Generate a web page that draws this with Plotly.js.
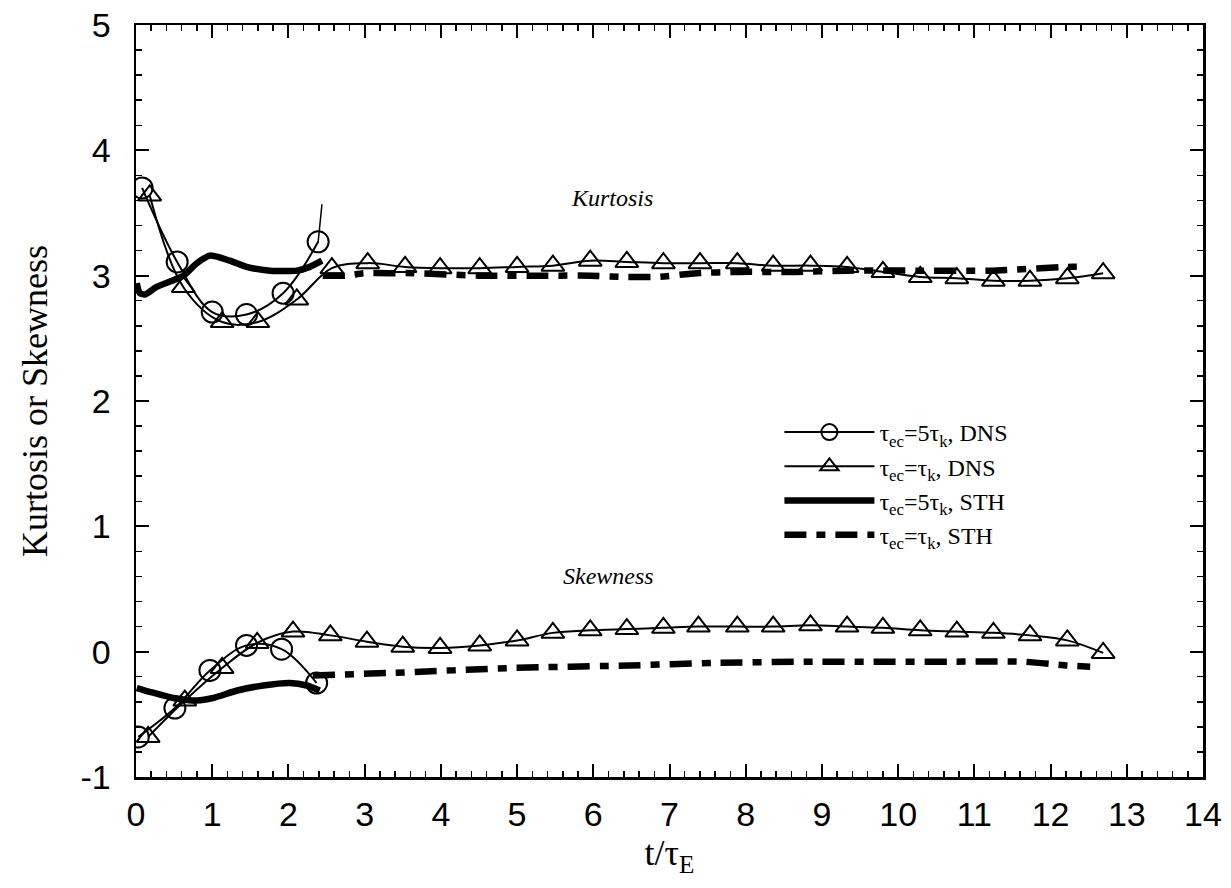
<!DOCTYPE html>
<html>
<head>
<meta charset="utf-8">
<script src="https://cdn.plot.ly/plotly-3.0.1.min.js"></script>
<style>html,body{margin:0;padding:0;background:#fff;}#chart{width:1231px;height:888px;}</style>
</head>
<body>
<div id="chart"></div>
<script>
// ---- Kurtosis: DNS tau_ec = 5 tau_k (circles)
const kurtDns5X = [0.08, 0.54, 1.00, 1.45, 1.93, 2.39];
const kurtDns5Y = [3.70, 3.11, 2.71, 2.69, 2.86, 3.27];
const kurtDns5TailX = [2.39, 2.44];
const kurtDns5TailY = [3.27, 3.57];
// ---- Kurtosis: DNS tau_ec = tau_k (triangles)
const kurtDns1X = [0.18, 0.62, 1.13, 1.60, 2.11, 2.57, 3.04, 3.53, 3.99, 4.51, 5.00, 5.47, 5.96, 6.44, 6.92, 7.40, 7.89, 8.36, 8.85, 9.33, 9.80, 10.29, 10.77, 11.25, 11.73, 12.22, 12.69];
const kurtDns1Y = [3.64, 2.91, 2.63, 2.63, 2.81, 3.06, 3.10, 3.07, 3.06, 3.06, 3.07, 3.08, 3.12, 3.11, 3.10, 3.10, 3.10, 3.08, 3.08, 3.07, 3.03, 2.99, 2.98, 2.96, 2.96, 2.98, 3.02];
// ---- Kurtosis: STH tau_ec = 5 tau_k (thick solid)
const kurtSth5X = [0.01, 0.05, 0.12, 0.27, 0.62, 0.80, 0.97, 1.23, 1.45, 1.76, 2.11, 2.28, 2.44];
const kurtSth5Y = [2.94, 2.86, 2.85, 2.91, 3.00, 3.10, 3.16, 3.12, 3.07, 3.04, 3.04, 3.07, 3.12];
// ---- Kurtosis: STH tau_ec = tau_k (thick dash-dot)
const kurtSth1X = [2.45, 2.77, 2.98, 3.33, 3.64, 4.51, 5.40, 5.96, 6.39, 6.84, 7.36, 7.89, 8.67, 9.33, 10.33, 11.20, 12.22, 12.39];
const kurtSth1Y = [3.00, 3.00, 3.02, 3.02, 3.02, 3.00, 3.00, 3.00, 2.99, 2.99, 3.02, 3.03, 3.03, 3.04, 3.04, 3.04, 3.07, 3.07];

// ---- Skewness: DNS tau_ec = 5 tau_k (circles)
const skewDns5X = [0.03, 0.51, 0.97, 1.45, 1.91, 2.37];
const skewDns5Y = [-0.68, -0.45, -0.15, 0.05, 0.02, -0.25];
// ---- Skewness: DNS tau_ec = tau_k (triangles)
const skewDns1X = [0.16, 0.64, 1.13, 1.59, 2.06, 2.55, 3.03, 3.50, 3.99, 4.51, 5.00, 5.47, 5.96, 6.44, 6.92, 7.38, 7.89, 8.36, 8.85, 9.33, 9.80, 10.29, 10.77, 11.25, 11.73, 12.22, 12.69];
const skewDns1Y = [-0.68, -0.39, -0.13, 0.07, 0.16, 0.13, 0.08, 0.04, 0.03, 0.05, 0.09, 0.15, 0.17, 0.18, 0.19, 0.20, 0.20, 0.20, 0.21, 0.20, 0.19, 0.17, 0.16, 0.15, 0.13, 0.09, -0.01];
// ---- Skewness: STH tau_ec = 5 tau_k (thick solid)
const skewSth5X = [0.01, 0.18, 0.49, 0.80, 1.01, 1.33, 1.67, 2.02, 2.24, 2.41];
const skewSth5Y = [-0.29, -0.32, -0.37, -0.39, -0.37, -0.31, -0.27, -0.25, -0.27, -0.31];
// ---- Skewness: STH tau_ec = tau_k (thick dash-dot)
const skewSth1X = [2.32, 3.33, 4.95, 6.48, 7.57, 8.88, 9.76, 10.68, 11.64, 12.22, 12.52];
const skewSth1Y = [-0.19, -0.17, -0.13, -0.11, -0.09, -0.08, -0.08, -0.08, -0.08, -0.11, -0.12];

// ---- Tick labels
const yTickVals = [-1, 0, 1, 2, 3, 4, 5];
const yTickText = ['-1', '0', '1', '2', '3', '4', '5'];

const legendNames = [
  'τ<sub>ec</sub>=5τ<sub>k</sub>, DNS',
  'τ<sub>ec</sub>=τ<sub>k</sub>, DNS',
  'τ<sub>ec</sub>=5τ<sub>k</sub>, STH',
  'τ<sub>ec</sub>=τ<sub>k</sub>, STH'
];

const thin = {color: 'black', width: 2, shape: 'spline', smoothing: 1};
const thickSolid = {color: 'black', width: 6.5, shape: 'spline', smoothing: 0.6};
const thickDash = {color: 'black', width: 6.5, dash: '22px,10px,9px,10px', shape: 'spline', smoothing: 0.6};
const circ = {symbol: 'circle-open', size: 21, color: 'black', line: {width: 2, color: 'black'}};
const tri = {symbol: 'triangle-up-open', size: 20, color: 'black', line: {width: 2, color: 'black'}};

const traces = [
  {x: kurtDns5X, y: kurtDns5Y, mode: 'lines+markers', line: thin, marker: circ, name: legendNames[0], legendgroup: 'a'},
  {x: kurtDns5TailX, y: kurtDns5TailY, mode: 'lines', line: {color: 'black', width: 1.5}, showlegend: false, legendgroup: 'a'},
  {x: skewDns5X, y: skewDns5Y, mode: 'lines+markers', line: thin, marker: circ, showlegend: false, legendgroup: 'a'},
  {x: kurtDns1X, y: kurtDns1Y, mode: 'lines+markers', line: thin, marker: tri, name: legendNames[1], legendgroup: 'b'},
  {x: skewDns1X, y: skewDns1Y, mode: 'lines+markers', line: thin, marker: tri, showlegend: false, legendgroup: 'b'},
  {x: kurtSth5X, y: kurtSth5Y, mode: 'lines', line: thickSolid, name: legendNames[2], legendgroup: 'c'},
  {x: skewSth5X, y: skewSth5Y, mode: 'lines', line: thickSolid, showlegend: false, legendgroup: 'c'},
  {x: kurtSth1X, y: kurtSth1Y, mode: 'lines', line: thickDash, name: legendNames[3], legendgroup: 'd'},
  {x: skewSth1X, y: skewSth1Y, mode: 'lines', line: thickDash, showlegend: false, legendgroup: 'd'}
];

const tickFont = {family: 'Liberation Sans, Arial, sans-serif', size: 34, color: 'black'};
const titleFont = {family: 'Liberation Serif, Times New Roman, serif', size: 36, color: 'black'};

const layout = {
  width: 1231, height: 888,
  margin: {l: 136, r: 28, t: 25, b: 111},
  paper_bgcolor: 'white', plot_bgcolor: 'white',
  showlegend: true,
  legend: {
    x: 0.603, y: 0.488, xanchor: 'left', yanchor: 'top',
    font: {family: 'Liberation Serif, Times New Roman, serif', size: 24, color: 'black'},
    bgcolor: 'rgba(0,0,0,0)', borderwidth: 0, tracegroupgap: 0, itemwidth: 90
  },
  xaxis: {
    range: [0, 14], dtick: 1, tick0: 0,
    showgrid: false, zeroline: false,
    showline: true, linecolor: 'black', linewidth: 2.5, mirror: 'ticks',
    ticks: 'inside', ticklen: 13, tickwidth: 2, tickcolor: 'black',
    minor: {dtick: 0.2, ticks: 'inside', ticklen: 6, tickwidth: 1.5, tickcolor: 'black', showgrid: false},
    tickfont: tickFont, ticklabelstandoff: 6,
    title: {text: 't/τ<sub>E</sub>', font: titleFont, standoff: 8}
  },
  yaxis: {
    range: [-1, 5], tickmode: 'array', tickvals: yTickVals, ticktext: yTickText,
    showgrid: false, zeroline: false,
    showline: true, linecolor: 'black', linewidth: 2.5, mirror: 'ticks',
    ticks: 'inside', ticklen: 13, tickwidth: 2, tickcolor: 'black',
    minor: {dtick: 0.2, ticks: 'inside', ticklen: 6, tickwidth: 1.5, tickcolor: 'black', showgrid: false},
    tickfont: tickFont, ticklabelstandoff: 16,
    title: {text: 'Kurtosis or Skewness', font: titleFont, standoff: 22}
  },
  annotations: [
    {x: 6.25, y: 3.62, xref: 'x', yref: 'y', text: '<i>Kurtosis</i>', showarrow: false,
     font: {family: 'Liberation Serif, Times New Roman, serif', size: 24, color: 'black'}},
    {x: 6.2, y: 0.6, xref: 'x', yref: 'y', text: '<i>Skewness</i>', showarrow: false,
     font: {family: 'Liberation Serif, Times New Roman, serif', size: 24, color: 'black'}}
  ]
};

Plotly.newPlot('chart', traces, layout, {staticPlot: true, displayModeBar: false});
</script>
</body>
</html>
